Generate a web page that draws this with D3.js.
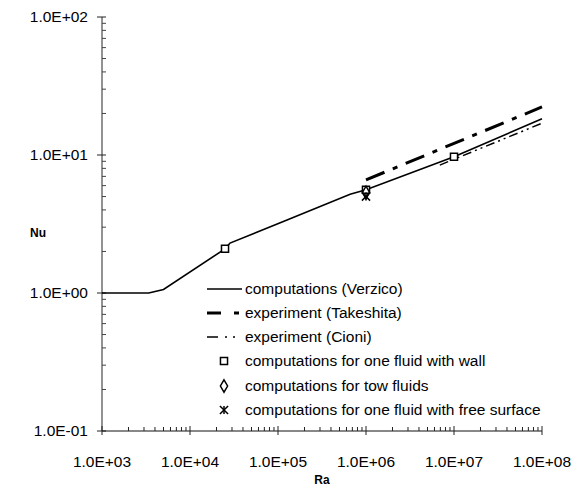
<!DOCTYPE html>
<html><head><meta charset="utf-8">
<script src="https://cdn.jsdelivr.net/npm/d3@7"></script>
<style>body{margin:0;background:#fff}svg{display:block}</style>
</head><body><svg id="c" width="586" height="492"></svg>
<script>
// ---- data ----
const xTickValues = [1e3, 1e4, 1e5, 1e6, 1e7, 1e8];
const xTickLabels = ["1.0E+03", "1.0E+04", "1.0E+05", "1.0E+06", "1.0E+07", "1.0E+08"];
const yTickValues = [0.1, 1, 10, 100];
const yTickLabels = ["1.0E-01", "1.0E+00", "1.0E+01", "1.0E+02"];
const verzicoRa = [1e3, 3400, 5000, 25000, 28500, 1.15e5, 6.6e5, 1e6, 1e7, 1e8];
const verzicoNu = [1.0, 1.0, 1.06, 2.09, 2.30, 3.30, 5.20, 5.6, 9.7, 18.3];
const takeshitaRa = [1e6, 1e8];
const takeshitaNu = [6.6, 22.3];
const cioniRa = [6.9e6, 1e8];
const cioniNu = [8.45, 17.0];
const wallRa = [2.5e4, 1e6, 1e7];
const wallNu = [2.09, 5.6, 9.7];
const twoFluidRa = [1e6];
const twoFluidNu = [5.35];
const freeSurfRa = [1e6];
const freeSurfNu = [5.0];
const legendLabels = ["computations (Verzico)", "experiment (Takeshita)", "experiment (Cioni)",
  "computations for one fluid with wall", "computations for tow fluids",
  "computations for one fluid with free surface"];

// ---- layout ----
const svg = d3.select("#c");
const x = d3.scaleLog().domain([1e3, 1e8]).range([102, 542]);
const y = d3.scaleLog().domain([0.1, 100]).range([431, 17]);
const font = "'Liberation Sans', Arial, sans-serif";

// minor ticks
const minorX = [], minorY = [];
for (let d = 3; d < 8; d++) for (let k = 2; k <= 9; k++) minorX.push(k * Math.pow(10, d));
for (let d = -1; d < 2; d++) for (let k = 2; k <= 9; k++) minorY.push(k * Math.pow(10, d));

const g = svg.append("g");
// y axis
g.append("line").attr("x1", x(1e3)).attr("x2", x(1e3)).attr("y1", y(100)).attr("y2", y(0.1))
  .attr("stroke", "#777").attr("stroke-width", 1.6);
g.selectAll(".ymin").data(minorY).join("line")
  .attr("x1", x(1e3)).attr("x2", x(1e3) + 4).attr("y1", d => y(d)).attr("y2", d => y(d))
  .attr("stroke", "#444").attr("stroke-width", 1);
g.selectAll(".ymaj").data(yTickValues).join("line")
  .attr("x1", x(1e3) - 5).attr("x2", x(1e3) + 4).attr("y1", d => y(d)).attr("y2", d => y(d))
  .attr("stroke", "#222").attr("stroke-width", 1);
g.selectAll(".ylab").data(yTickValues).join("text")
  .attr("x", x(1e3) - 14).attr("y", d => y(d)).attr("dy", "0.35em")
  .attr("text-anchor", "end").attr("font-family", font).attr("font-size", 15.5)
  .text((d, i) => yTickLabels[i]);
// x axis
g.append("line").attr("x1", x(1e3)).attr("x2", x(1e8)).attr("y1", y(0.1)).attr("y2", y(0.1))
  .attr("stroke", "#111").attr("stroke-width", 1);
g.selectAll(".xmin").data(minorX).join("line")
  .attr("x1", d => x(d)).attr("x2", d => x(d)).attr("y1", y(0.1)).attr("y2", y(0.1) - 4)
  .attr("stroke", "#222").attr("stroke-width", 1);
g.selectAll(".xmaj").data(xTickValues).join("line")
  .attr("x1", d => x(d)).attr("x2", d => x(d)).attr("y1", y(0.1) - 5).attr("y2", y(0.1) + 4)
  .attr("stroke", "#222").attr("stroke-width", 1);
g.selectAll(".xlab").data(xTickValues).join("text")
  .attr("x", d => x(d)).attr("y", y(0.1) + 36)
  .attr("text-anchor", "middle").attr("font-family", font).attr("font-size", 15.5)
  .text((d, i) => xTickLabels[i]);
// axis titles
svg.append("text").attr("x", 38).attr("y", 233).attr("dy", "0.35em").attr("text-anchor", "middle")
  .attr("font-family", font).attr("font-weight", "bold").attr("font-size", 12).text("Nu");
svg.append("text").attr("x", 322).attr("y", 484).attr("text-anchor", "middle")
  .attr("font-family", font).attr("font-weight", "bold").attr("font-size", 12).text("Ra");

// ---- series ----
const line = d3.line().x(d => x(d[0])).y(d => y(d[1]));
const zip = (a, b) => a.map((v, i) => [v, b[i]]);
svg.append("path").attr("d", line(zip(verzicoRa, verzicoNu))).attr("fill", "none")
  .attr("stroke", "#000").attr("stroke-width", 1.6);
svg.append("path").attr("d", line(zip(takeshitaRa, takeshitaNu))).attr("fill", "none")
  .attr("stroke", "#000").attr("stroke-width", 3).attr("stroke-dasharray", "20,9,5,9");
svg.append("path").attr("d", line(zip(cioniRa, cioniNu))).attr("fill", "none")
  .attr("stroke", "#000").attr("stroke-width", 1.5).attr("stroke-dasharray", "9,4,2,4,2,4");

// markers
const sq = d3.symbol().type(d3.symbolSquare).size(50);
const dia = d3.symbol().type(d3.symbolDiamond).size(45);
const ast = d3.symbol().type(d3.symbolTimes).size(45);
svg.selectAll(".wall").data(zip(wallRa, wallNu)).join("path")
  .attr("transform", d => `translate(${x(d[0])},${y(d[1])})`).attr("d", sq)
  .attr("fill", "#fff").attr("stroke", "#000").attr("stroke-width", 1.5);
svg.selectAll(".two").data(zip(twoFluidRa, twoFluidNu)).join("path")
  .attr("transform", d => `translate(${x(d[0])},${y(d[1])})`).attr("d", dia)
  .attr("fill", "none").attr("stroke", "#000").attr("stroke-width", 1.5);
function asterisk(sel) {
  sel.append("path").attr("d", ast).attr("fill", "none").attr("stroke", "#000").attr("stroke-width", 1.5);
  sel.append("line").attr("x1", 0).attr("x2", 0).attr("y1", -4).attr("y2", 4).attr("stroke", "#000").attr("stroke-width", 1.5);
}
svg.selectAll(".fs").data(zip(freeSurfRa, freeSurfNu)).join("g")
  .attr("transform", d => `translate(${x(d[0])},${y(d[1])})`).call(asterisk);

// ---- legend ----
const lg = svg.append("g");
const rowY = [289, 313, 337, 361, 386, 410];
const lx0 = 207, lx1 = 242, tx = 245;
lg.append("line").attr("x1", lx0).attr("x2", lx1).attr("y1", rowY[0]).attr("y2", rowY[0]).attr("stroke", "#000").attr("stroke-width", 1.6);
lg.append("line").attr("x1", lx0).attr("x2", lx1).attr("y1", rowY[1]).attr("y2", rowY[1]).attr("stroke", "#000").attr("stroke-width", 3).attr("stroke-dasharray", "14,13,5,9");
lg.append("line").attr("x1", lx0).attr("x2", lx1).attr("y1", rowY[2]).attr("y2", rowY[2]).attr("stroke", "#000").attr("stroke-width", 1.5).attr("stroke-dasharray", "11,7,2,6,2,10");
lg.append("path").attr("transform", `translate(224,${rowY[3]})`).attr("d", sq).attr("fill", "#fff").attr("stroke", "#000").attr("stroke-width", 1.5);
lg.append("path").attr("transform", `translate(224,${rowY[4]})`).attr("d", dia).attr("fill", "none").attr("stroke", "#000").attr("stroke-width", 1.5);
lg.append("g").attr("transform", `translate(224,${rowY[5]})`).call(asterisk);
lg.selectAll("text").data(legendLabels).join("text")
  .attr("x", tx).attr("y", (d, i) => rowY[i]).attr("dy", "0.35em")
  .attr("font-family", font).attr("font-size", 15.5).text(d => d);
</script>
</body></html>
